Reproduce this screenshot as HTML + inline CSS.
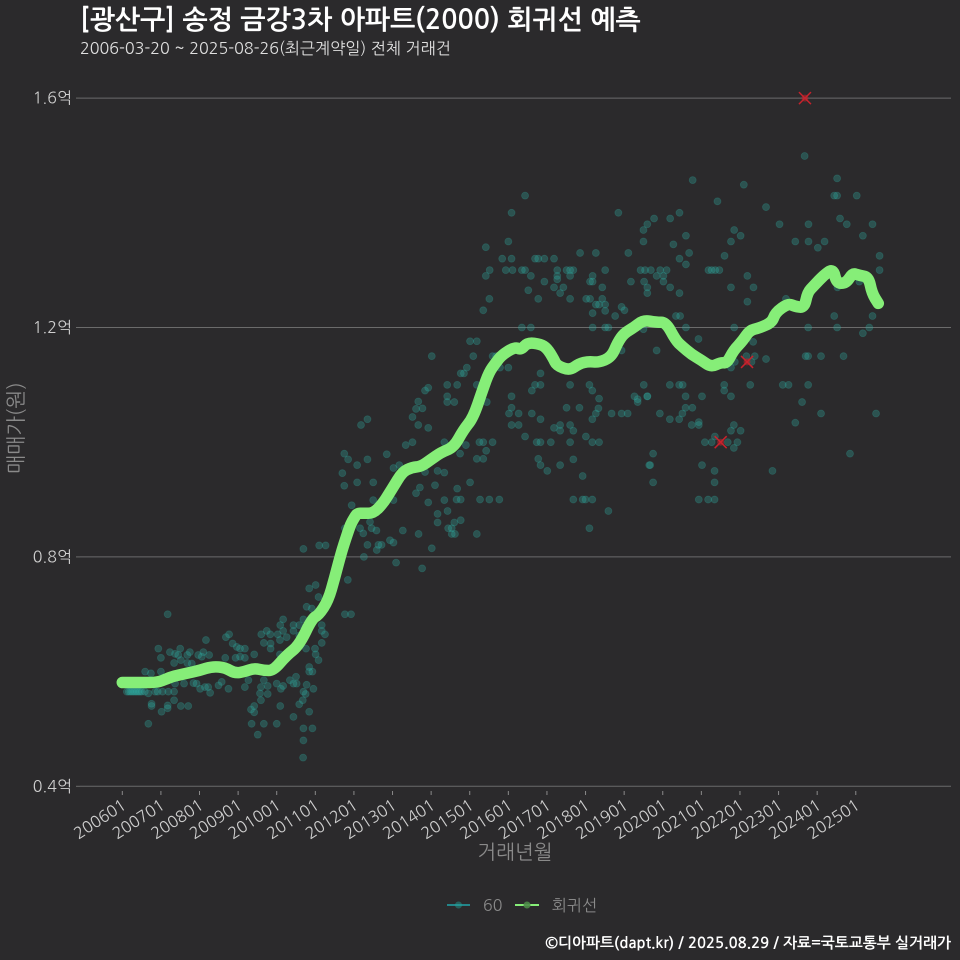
<!DOCTYPE html>
<html lang="ko">
<head>
<meta charset="utf-8">
<title>송정 금강3차 아파트 회귀선 예측</title>
<style>
html,body{margin:0;padding:0;background:#2b2a2c;}
svg{display:block;}
text{font-family:"NanumGothic","Noto Sans CJK KR","Liberation Sans",sans-serif;}
</style>
</head>
<body>
<svg id="chart" xmlns="http://www.w3.org/2000/svg" width="960" height="960" viewBox="0 0 960 960">
  <rect x="0" y="0" width="960" height="960" fill="#2b2a2c"/>
  <text x="80" y="29" font-size="26.8" font-weight="700" fill="#ffffff">[광산구] 송정 금강3차 아파트(2000) 회귀선 예측</text>
  <text x="80" y="54" font-size="16.1" fill="#e0e0e0">2006-03-20 ~ 2025-08-26(최근계약일) 전체 거래건</text>
  <g id="y-grid"></g>
  <g id="x-axis"></g>
  <g id="points"></g>
  <g id="outliers"></g>
  <g id="trend"></g>
  <text x="515" y="859" font-size="20" text-anchor="middle" fill="#8a8a8a">거래년월</text>
  <text transform="translate(23,428) rotate(-90)" font-size="20.4" text-anchor="middle" fill="#8a8a8a">매매가(원)</text>
  <g>
    <g>
      <line x1="447" y1="905" x2="470" y2="905" stroke="#23868a" stroke-width="2"/>
      <circle cx="458.5" cy="905" r="3.5" fill="#23a39a" opacity="0.45"/>
      <text x="483" y="911" font-size="16" fill="#8a8a8a">60</text>
    </g>
    <g>
      <line x1="515" y1="905" x2="539" y2="905" stroke="#86ee78" stroke-width="2"/>
      <circle cx="527" cy="905" r="3.5" fill="#4d8a48" opacity="0.9"/>
      <text x="552" y="911" font-size="16" fill="#8a8a8a">회귀선</text>
    </g>
  </g>
  <text x="951" y="948" font-size="14.9" font-weight="700" text-anchor="end" fill="#ffffff">©디아파트(dapt.kr) / 2025.08.29 / 자료=국토교통부 실거래가</text>
</svg>
<script>
const xTickLabels = ["200601","200701","200801","200901","201001","201101","201201","201301","201401","201501","201601","201701","201801","201901","202001","202101","202201","202301","202401","202501"];
const yTickValues = [0.4,0.8,1.2,1.6];
const yTickLabels = ["0.4억","0.8억","1.2억","1.6억"];

const trendMonths = [0,6,11,14,16,20,24,28,32,35,38,41,44,47,51,55,59,61,64,66,68,69,70,71,72,73,75,78,81,84,87,90,93,96,99,103,106,109,112,114,116,118,122,124,126,130,132,134,135,139,142,145,148,152,154,156,159,162,166,169,172,174,177,180,183,186,188,190,193,195,198,202,203,207,209,212,213,215,218,221,222,225,227,229,232,233,235];
const trendValues = [.581,.581,.581,.588,.592,.597,.602,.609,.607,.597,.600,.606,.602,.602,.628,.646,.693,.698,.724,.763,.806,.824,.841,.857,.867,.876,.876,.876,.893,.920,.948,.956,.958,.970,.982,.991,1.021,1.042,1.091,1.122,1.138,1.152,1.166,1.161,1.174,1.171,1.164,1.146,1.134,1.125,1.137,1.141,1.139,1.148,1.174,1.190,1.200,1.213,1.209,1.209,1.178,1.167,1.153,1.143,1.131,1.139,1.138,1.160,1.178,1.195,1.199,1.209,1.226,1.242,1.237,1.234,1.261,1.273,1.291,1.303,1.277,1.277,1.295,1.291,1.288,1.260,1.242];

const outlierMonths = [212.2,186,194.2];
const outlierPrices = [1.6,1.0,1.14];

const saleMonths = [
1.4,2,2.5,3,3.5,4,4.5,5,5.5,6,7,10.2,11,12.5,
14.1,7.1,8.9,12,8.1,9.1,9.1,14.1,12.2,14.1,16.1,14.3,16.1,8.1,18.2,20.5,
11.2,12,14.8,16.4,17.4,18,16.1,18.2,20.2,21,20.2,21.6,23.6,24.7,25.2,27,26,
16.4,19.2,22.1,23.1,24.2,25.7,26.7,27.3,29.9,30.9,33,
32.2,33.2,34.3,35.6,36.6,38.1,35.2,36.6,38.1,32,41,
38.1,39.2,44,45.2,43.1,42.8,45.2,43.1,41,40,41,40.2,44,42.1,48,49.1,
48,49.3,50,52.1,54,53.2,54.2,57.3,59.4,56.3,57,56.1,55,58.1,53.2,
56.3,59.1,56.3,56.2,58.1,58.1,59.1,
43.2,44.9,46,48.3,50,49.1,50,53.2,53.2,55,56.3,44,46.1,46.1,49,51.1,55,
49,57.1,59.9,60.1,61,57.3,58.1,60.1,61,58.9,62,62,63,62,70.1,69.2,71.1,56.3,61.2,63.2,
69.2,73.9,74.9,77.5,79,77,76.2,79.1,79.6,80.6,75.1,
83.2,84.3,85.1,87.2,92.1,93.2,96.2,98,101.1,98,103.2,105.2,101.3,102.4,102.4,103.4,110.2,
95.1,100.1,103.9,105.2,111.2,114.1,117.2,97.2,92.5,91.3,104.1,108.1,78,78,84.3,73,69,71.3,68.4,
73,76.2,82.2,70.2,69,84.3,86.1,94.1,98,100.1,88.1,90.2,100.1,105,106.8,110.2,112.2,113.1,111,112.2,115.1,
74.2,76.2,92,95.1,90.2,91.3,93.3,92,94.1,95.1,101,101,103.2,101,104.1,110.2,113.3,
105.2,106.2,107.1,96.2,109.1,115.1,116.2,108.1,110.2,117.4,120,
121,121,120.2,123.2,121,123.2,127.3,130,125.2,127.3,130,128.3,130,139.2,145.2,146.1,138.1,142.1,148.2,147.2,146.1,148,
134.2,136.1,136.1,139.2,140.2,144.1,146.1,148.2,128.8,130,133.2,139.2,129.3,130,132.1,136.1,140.2,143.1,
140.2,143.1,144,146.1,145.2,
125.2,121,120,113,118.1,121,128.3,129.3,131.2,134.2,114.2,113,119.2,121.3,124.2,125.2,135.2,138.1,139.2,140.2,127,131.2,135.2,135.2,139.2,
142.3,147.2,157.3,154.2,146.2,145.4,146.2,150.1,149.2,126.2,134.2,137.1,136.1,139.2,129.3,114.1,112.2,144.2,145.4,149.2,147.2,148.2,150.1,150.1,146.2,155.2,156.1,153.2,
124.2,127,146.2,150.1,151.1,175.2,172.1,173.4,162,155.2,166.1,179.1,
162,163.2,165.3,170.3,173.2,162,171.3,175.2,176.2,173.2,175.2,177.3,185,
161.1,162.5,164.3,167.2,169.2,166.1,168.2,168.2,162.2,163.2,163.2,170.3,173.2,158.1,182.2,183.2,184.3,185.6,
212.1,222.2,193.2,200.1,221.3,222.2,228.3,223.1,225.2,233.2,204.3,213.3,190.2,192.2,230.2,189.2,209.2,213.3,216.2,218.3,187.2,235.4,
235.4,194.3,189.2,196.2,194.3,206.3,221.3,233.2,229.1,222.3,
190.2,213.2,222.2,232.2,230.2,196.1,194,196.6,190.4,189.2,200.1,195.6,212.4,213.2,217.2,224.2,
162.1,170.2,173.1,174.2,187.1,187.1,195.2,205.3,207.1,213.2,
163.2,175.1,180.2,189.2,211.3,217.2,234.3,209.2,175.1,177.2,174.1,167.1,170.2,173.1,177,179.2,179.2,
190.1,189.2,192.2,184.2,181.1,183.2,188.2,191.2,190.1,165,226.2,164.1,180.2,184.1,202.1,165,184.1,179.2,182.1,184.1,
159.2,160.2,160.2,163.2,152.1,155.2,157.1,163.8,151.1
];
const salePrices = [
.565,.565,.565,.565,.565,.565,.565,.565,.565,.565,.565,.565,.565,.565,
.700,.600,.597,.600,.562,.544,.540,.541,.530,.536,.550,.565,.565,.509,.540,.540,
.640,.624,.634,.631,.629,.640,.615,.620,.629,.634,.615,.614,.629,.626,.634,.629,.655,
.579,.579,.580,.579,.570,.573,.573,.563,.576,.582,.570,
.660,.665,.649,.643,.640,.640,.624,.626,.624,.624,.630,
.573,.585,.585,.575,.573,.562,.561,.550,.540,.534,.529,.509,.509,.490,.509,.540,
.579,.570,.575,.585,.591,.579,.579,.577,.570,.565,.561,.550,.543,.530,.521,
.501,.501,.480,.450,.608,.600,.600,
.665,.671,.665,.665,.671,.681,.691,.681,.671,.681,.691,.650,.649,.640,.655,.660,.663,
.630,.640,.640,.630,.620,.713,.745,.751,.730,.710,.681,.671,.665,.650,.760,.700,.700,.814,.820,.820,
.850,.850,.841,.850,.846,.861,.821,.812,.821,.821,.800,
.829,.825,.790,.846,.840,.780,.815,.875,.880,.860,.860,.864,.850,.850,.840,.840,.840,
.895,.899,.900,.900,.900,.900,.900,.925,.921,.911,.919,.930,.930,.899,.899,.930,.924,.890,.946,
.960,.970,.979,.970,.980,.955,.960,.948,.950,.947,.995,1.0,1.0,.980,.995,.971,.971,.985,1.0,1.0,1.0,
1.03,1.04,1.03,1.025,1.044,1.058,1.059,1.071,1.09,1.095,1.08,1.07,1.07,1.10,1.10,1.10,1.07,
1.12,1.12,1.13,1.15,1.15,1.15,1.15,1.176,1.176,1.13,1.13,
1.08,1.06,1.05,1.05,1.03,1.03,1.05,1.04,1.01,1.09,1.10,1.10,1.12,1.10,1.10,1.09,1.06,1.06,1.076,1.05,1.04,1.059,
1.025,1.03,1.02,1.03,1.02,1.01,1.0,1.0,1.0,1.0,1.0,1.0,.971,.96,.95,.96,.97,.941,
.90,.90,.90,.90,.85,
1.43,1.40,1.35,1.34,1.32,1.32,1.32,1.32,1.32,1.32,1.30,1.29,1.30,1.30,1.30,1.30,1.30,1.30,1.30,1.30,1.29,1.28,1.29,1.284,1.29,
1.33,1.33,1.33,1.40,1.29,1.28,1.28,1.30,1.27,1.265,1.27,1.27,1.26,1.25,1.25,1.25,1.23,1.25,1.25,1.25,1.24,1.24,1.24,1.229,1.225,1.236,1.23,1.22,
1.2,1.2,1.2,1.2,1.2,1.2,1.22,1.22,1.197,1.16,1.16,1.18,
1.37,1.38,1.39,1.39,1.40,1.35,1.345,1.36,1.33,1.32,1.31,1.457,1.42,
1.30,1.30,1.30,1.30,1.30,1.29,1.29,1.28,1.28,1.27,1.26,1.27,1.26,1.28,1.30,1.30,1.30,1.30,
1.499,1.46,1.449,1.41,1.43,1.43,1.43,1.39,1.38,1.38,1.38,1.38,1.37,1.36,1.36,1.35,1.35,1.35,1.339,1.35,1.325,1.325,
1.30,1.29,1.27,1.27,1.245,1.25,1.22,1.22,1.28,1.27,
1.2,1.2,1.2,1.2,1.19,1.175,1.15,1.15,1.14,1.13,1.145,1.14,1.15,1.15,1.15,1.15,
1.1,1.1,1.1,1.1,1.1,1.09,1.1,1.1,1.1,1.1,
1.08,1.08,1.08,1.08,1.07,1.05,1.05,1.034,1.06,1.06,1.05,1.05,1.04,1.04,1.03,1.035,1.03,
1.03,1.02,1.02,1.01,1.0,1.0,1.0,1.0,.99,.98,.98,.96,.96,.95,.95,.93,.93,.9,.9,.9,
1.08,1.075,1.07,1.08,1.05,1.05,1.05,.96,.88
];

const SVG_NS = 'http://www.w3.org/2000/svg';
function xScale(month){ return 122.3 + month * 3.217; }
function yScale(value){ return 786.3 - (value - 0.4) * 573.5; }
function make(tag, attrs){
  const el = document.createElementNS(SVG_NS, tag);
  for (const k in attrs) el.setAttribute(k, attrs[k]);
  return el;
}

const yGrid = document.getElementById('y-grid');
yTickValues.forEach(function(v, i){
  const y = yScale(v);
  const grid = make('line', {x1:80, x2:951, y1:y, y2:y, stroke:'#6b6b6b', 'stroke-width':1});
  
  
  yGrid.appendChild(grid);
  const tick = make('line', {x1:76, x2:80, y1:y, y2:y, stroke:'#6b6b6b', 'stroke-width':1});
  
  
  yGrid.appendChild(tick);
  const label = make('text', {x:72, y:y + 5.5, 'font-size':16, 'text-anchor':'end', fill:'#cfcfcf'});
  
  
  label.textContent = yTickLabels[i];
  yGrid.appendChild(label);
});

const xAxis = document.getElementById('x-axis');
xTickLabels.forEach(function(t, i){
  const x = xScale(i * 12);
  const tick = make('line', {x1:x, x2:x, y1:791, y2:795, stroke:'#8a8a8a', 'stroke-width':1});
  
  
  xAxis.appendChild(tick);
  const label = make('text', {'font-size':16, 'text-anchor':'end', fill:'#cfcfcf',
    transform:'translate(' + (x + 5) + ',808) rotate(-33)'});
  
  
  label.textContent = t;
  xAxis.appendChild(label);
});

const pointLayer = document.getElementById('points');
const pointCount = Math.min(saleMonths.length, salePrices.length);
for (let i = 0; i < pointCount; i++) {
  const dot = make('circle', {cx:xScale(saleMonths[i]), cy:yScale(salePrices[i]), r:3.5,
    fill:'#2fb0a5', 'fill-opacity':0.3, stroke:'#2fb0a5', 'stroke-opacity':0.25, 'stroke-width':0.8});
  
  
  pointLayer.appendChild(dot);
}

const outlierLayer = document.getElementById('outliers');
outlierMonths.forEach(function(m, i){
  const cx = xScale(m), cy = yScale(outlierPrices[i]);
  const mark = make('g', {});
  
  
  mark.appendChild(make('circle', {cx:cx, cy:cy, r:3.5, fill:'#c4202c', 'fill-opacity':0.55}));
  mark.appendChild(make('path', {d:'M' + (cx-6) + ' ' + (cy-6) + 'L' + (cx+6) + ' ' + (cy+6) + 'M' + (cx-6) + ' ' + (cy+6) + 'L' + (cx+6) + ' ' + (cy-6),
    stroke:'#c8222c', 'stroke-width':1.5, fill:'none'}));
  outlierLayer.appendChild(mark);
});

const trendLayer = document.getElementById('trend');
const trendXs = trendMonths.map(xScale);
const trendYs = trendValues.map(yScale);
let trendD = 'M' + trendXs[0].toFixed(1) + ' ' + trendYs[0].toFixed(1);
for (let i = 1; i < trendXs.length - 1; i++) {
  const midX = (trendXs[i] + trendXs[i + 1]) / 2;
  const midY = (trendYs[i] + trendYs[i + 1]) / 2;
  trendD += 'Q' + trendXs[i].toFixed(1) + ' ' + trendYs[i].toFixed(1) + ' ' + midX.toFixed(1) + ' ' + midY.toFixed(1);
}
trendD += 'L' + trendXs[trendXs.length - 1].toFixed(1) + ' ' + trendYs[trendYs.length - 1].toFixed(1);
const trendPath = make('path', {d:trendD, fill:'none', stroke:'#86ee78', 'stroke-width':11.5, 'stroke-linejoin':'round', 'stroke-linecap':'round'});


trendLayer.appendChild(trendPath);
</script>
</body>
</html>
